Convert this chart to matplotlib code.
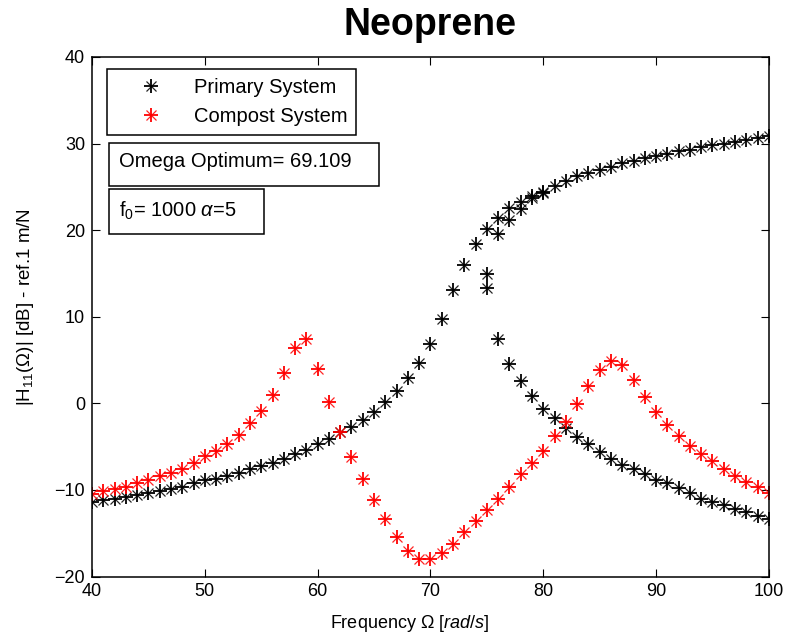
import matplotlib
matplotlib.use("Agg")
import matplotlib.pyplot as plt
from matplotlib.legend_handler import HandlerTuple
from matplotlib.patches import Rectangle

plt.rcParams['font.family'] = ['Liberation Sans', 'DejaVu Sans']
plt.rcParams['mathtext.fontset'] = 'custom'
plt.rcParams['mathtext.rm'] = 'Liberation Sans'
plt.rcParams['mathtext.it'] = 'Liberation Sans:italic'

# ------------------- Data -------------------
freq = list(range(40, 101))

# primary system: rising to the resonance near 75, then falling
primary_main = [-11.4, -11.2, -11.0, -10.8, -10.6, -10.3, -10.1, -9.9, -9.7, -9.2,
                -8.9, -8.7, -8.4, -8.0, -7.6, -7.2, -6.9, -6.4, -5.8, -5.4,
                -4.7, -4.1, -3.3, -2.7, -1.9, -1.0, 0.2, 1.4, 2.9, 4.7,
                6.9, 9.7, 13.1, 16.0, 18.4, 14.9, 7.4, 4.6, 2.6, 0.8,
                -0.6, -1.7, -2.8, -3.9, -4.7, -5.6, -6.4, -7.1, -7.6, -8.2,
                -8.8, -9.2, -9.8, -10.4, -11.0, -11.4, -11.7, -12.2, -12.6, -13.0,
                -13.4]

# primary system: upper branches above the resonance
freq_upper = list(range(75, 101))
primary_upper = [20.1, 21.4, 22.6, 23.3, 23.9, 24.4, 25.1, 25.7, 26.2, 26.6,
                 27.0, 27.3, 27.7, 28.0, 28.3, 28.6, 28.8, 29.1, 29.3, 29.6,
                 29.8, 29.9, 30.2, 30.4, 30.6, 30.9]
freq_upper2 = [75, 76, 77, 78, 79, 80]
primary_upper2 = [13.3, 19.6, 21.2, 22.4, 23.7, 24.3]

# compost system
compost = [-10.5, -10.1, -9.9, -9.7, -9.2, -8.9, -8.4, -8.0, -7.6, -6.9,
           -6.1, -5.5, -4.7, -3.6, -2.3, -0.9, 1.0, 3.5, 6.4, 7.4,
           4.0, 0.2, -3.3, -6.2, -8.7, -11.2, -13.4, -15.4, -17.0, -18.0,
           -18.0, -17.3, -16.2, -14.9, -13.6, -12.3, -11.1, -9.7, -8.2, -6.9,
           -5.5, -3.8, -2.1, -0.1, 2.0, 3.8, 4.9, 4.4, 2.7, 0.7,
           -1.0, -2.5, -3.8, -4.9, -5.8, -6.7, -7.6, -8.4, -9.1, -9.7,
           -10.3]

# ------------------- Chart -------------------
fig = plt.figure(figsize=(7.87, 6.39), dpi=100)
ax = fig.add_axes([0.1169, 0.0978, 0.8601, 0.813])


def star(x, y, color):
    # MATLAB-like asterisk: a plus with a lighter cross on top
    p, = ax.plot(x, y, linestyle='none', marker='+', markersize=10.5,
                 markeredgewidth=1.3, color=color)
    q, = ax.plot(x, y, linestyle='none', marker='x', markersize=6.5,
                 markeredgewidth=0.9, color=color, alpha=0.85)
    return (p, q)


h_primary = star(freq, primary_main, 'black')
star(freq_upper, primary_upper, 'black')
star(freq_upper2, primary_upper2, 'black')
h_compost = star(freq, compost, 'red')

ax.set_xlim(40, 100)
ax.set_ylim(-20, 40)
ax.set_xticks(range(40, 101, 10))
ax.set_yticks(range(-20, 41, 10))
ax.tick_params(direction='in', length=5.5, top=True, right=True, labelsize=13,
               pad=5)
for s in ax.spines.values():
    s.set_linewidth(1.1)

fig.text(0.547, 0.961, "Neoprene", fontsize=27, fontweight='bold',
         ha='center', va='center')
fig.text(0.521, 0.025, r'Frequency $\mathit{\Omega\ [rad/s]}$', fontsize=13,
         ha='center', va='center')
fig.text(0.032, 0.52, r'|H$_{11}$($\Omega$)| [dB] - ref.1 m/N', fontsize=13.5,
         ha='center', va='center', rotation=90)

leg = ax.legend([h_primary, h_compost], ["Primary System", "Compost System"],
                handler_map={tuple: HandlerTuple(ndivide=1)},
                loc='upper left', bbox_to_anchor=(0.0222, 0.977),
                fontsize=14.5, frameon=True, fancybox=False, framealpha=1,
                edgecolor='black', borderpad=0.45, borderaxespad=0,
                handlelength=3.5, handletextpad=0.35, labelspacing=0.5)
leg.get_frame().set_linewidth(1.1)

# text boxes
ax.add_patch(Rectangle((0.0251, 0.7517), 0.3989, 0.0828, transform=ax.transAxes,
                       facecolor='white', edgecolor='black', linewidth=1.1))
ax.add_patch(Rectangle((0.0251, 0.6593), 0.2289, 0.0867, transform=ax.transAxes,
                       facecolor='white', edgecolor='black', linewidth=1.1))
ax.text(0.0399, 0.7979, "Omega Optimum= 69.109", transform=ax.transAxes,
        fontsize=14.5, va='center', ha='left')
ax.text(0.0399, 0.7036, r"f$_0$= 1000 $\alpha$=5", transform=ax.transAxes,
        fontsize=14.5, va='center', ha='left')

plt.savefig("out.png", dpi=100)
